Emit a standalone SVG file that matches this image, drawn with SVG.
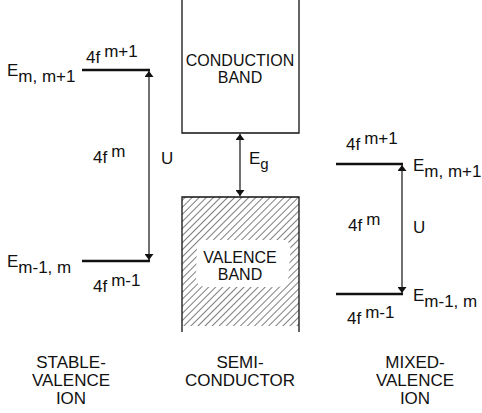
<svg xmlns="http://www.w3.org/2000/svg" width="482" height="413" viewBox="0 0 482 413">
<defs>
<style>
text{font-family:"Liberation Sans",Arial,sans-serif;font-size:17px;fill:#111}
.band{font-size:16px}
.lvl{stroke:#111;stroke-width:2.5;fill:none}
.box{stroke:#111;stroke-width:1.3;fill:none}
.arr{stroke:#111;stroke-width:1.2;fill:none;marker-start:url(#ah);marker-end:url(#ah)}
.c{text-anchor:middle}
</style>
<marker id="ah" viewBox="0 0 10 10" refX="10" refY="5" markerWidth="6" markerHeight="9" markerUnits="userSpaceOnUse" orient="auto-start-reverse" preserveAspectRatio="none">
<path d="M0,0L10,5L0,10z" fill="#111"/>
</marker>
<pattern id="hatch" patternUnits="userSpaceOnUse" width="5" height="5" patternTransform="rotate(45)">
<line x1="0" y1="0" x2="0" y2="5" stroke="#111" stroke-width="1.1"/>
</pattern>
</defs>
<rect width="482" height="413" fill="#fff"/>

<g id="stable">
<line class="lvl" x1="82" y1="70" x2="150" y2="70"/>
<line class="lvl" x1="82" y1="261" x2="150" y2="261"/>
<text x="7" y="76">E<tspan dy="6">m, m+1</tspan></text>
<text x="86" y="63">4f<tspan dy="-6" dx="4">m+1</tspan></text>
<text x="93" y="163">4f<tspan dy="-6" dx="4">m</tspan></text>
<text x="161" y="164">U</text>
<text x="7" y="267">E<tspan dy="6">m-1, m</tspan></text>
<text x="93" y="292">4f<tspan dy="-6" dx="4">m-1</tspan></text>
</g>

<g id="semi">
<path class="box" d="M182,0V133H299V0"/>
<text class="c band" x="240" y="66">CONDUCTION</text>
<text class="c band" x="240" y="83">BAND</text>
<rect x="182" y="197" width="117" height="129" fill="url(#hatch)"/>
<path d="M197,245 Q200,239 215,240 L285,240 Q292,242 290,256 L288,282 Q285,288 270,287 L205,287 Q196,286 196,278 Z" fill="#fff"/>
<path class="box" d="M182,332V197H299V332"/>
<text class="c band" x="240" y="263">VALENCE</text>
<text class="c band" x="240" y="280">BAND</text>
<text x="249" y="164">E<tspan dy="5" font-size="15">g</tspan></text>
</g>

<g id="mixed">
<line class="lvl" x1="336" y1="164" x2="403" y2="164"/>
<line class="lvl" x1="336" y1="294" x2="403" y2="294"/>
<text x="346" y="150">4f<tspan dy="-6" dx="4">m+1</tspan></text>
<text x="413" y="171">E<tspan dy="6">m, m+1</tspan></text>
<text x="348" y="231">4f<tspan dy="-6" dx="4">m</tspan></text>
<text x="413" y="233">U</text>
<text x="413" y="301">E<tspan dy="6">m-1, m</tspan></text>
<text x="347" y="324">4f<tspan dy="-6" dx="4">m-1</tspan></text>
</g>

<g id="connectors">
<line class="arr" x1="149" y1="71" x2="149" y2="260"/>
<line class="arr" x1="240" y1="134" x2="240" y2="196"/>
<line class="arr" x1="402" y1="165" x2="402" y2="293"/>
</g>

<g id="captions">
<text class="c" x="71" y="368">STABLE-</text>
<text class="c" x="71" y="386">VALENCE</text>
<text class="c" x="71" y="404">ION</text>
<text class="c" x="240" y="368">SEMI-</text>
<text class="c" x="240" y="386">CONDUCTOR</text>
<text class="c" x="415" y="368">MIXED-</text>
<text class="c" x="415" y="386">VALENCE</text>
<text class="c" x="415" y="404">ION</text>
</g>
</svg>
